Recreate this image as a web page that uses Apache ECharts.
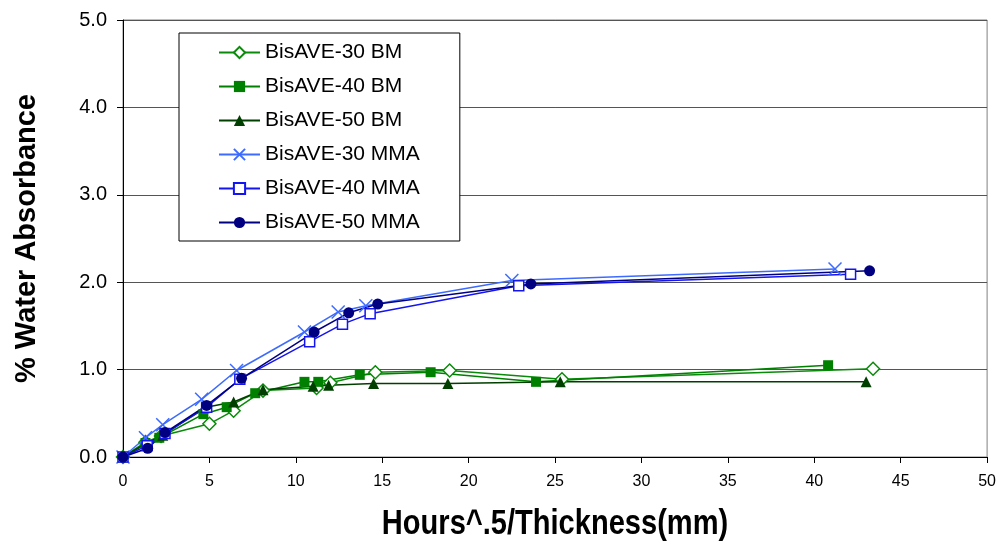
<!DOCTYPE html>
<html>
<head>
<meta charset="utf-8">
<script src="https://cdn.jsdelivr.net/npm/echarts@6/dist/echarts.min.js"></script>
<style>
  html, body { margin: 0; padding: 0; background: #fff; }
  #chart { width: 999px; height: 542px; }
</style>
</head>
<body>
<div id="chart"></div>
<script>
// Water uptake vs. sqrt(hours)/thickness for each formulation
const xTicks = [0, 5, 10, 15, 20, 25, 30, 35, 40, 45, 50];
const yTicks = [0.0, 1.0, 2.0, 3.0, 4.0, 5.0];
const xTitle = 'Hours^.5/Thickness(mm)';
const yTitle = '% Water Absorbance';

const seriesNames = ['BisAVE-30 BM', 'BisAVE-40 BM', 'BisAVE-50 BM',
                     'BisAVE-30 MMA', 'BisAVE-40 MMA', 'BisAVE-50 MMA'];

const bm30X = [0, 1.3, 2.2, 5.0, 6.4, 8.1, 11.2, 12.0, 14.6, 18.9, 25.4, 43.4];
const bm30Y = [0, 0.17, 0.24, 0.38, 0.53, 0.76, 0.79, 0.85, 0.97, 0.99, 0.89, 1.01];

const bm40X = [0, 1.3, 2.1, 4.65, 6.0, 7.65, 10.5, 11.3, 13.7, 17.8, 23.9, 40.8];
const bm40Y = [0, 0.16, 0.22, 0.49, 0.57, 0.73, 0.86, 0.86, 0.94, 0.97, 0.86, 1.05];

const bm50X = [0, 1.4, 2.3, 4.8, 6.4, 8.1, 11.0, 11.9, 14.5, 18.8, 25.3, 43.0];
const bm50Y = [0, 0.16, 0.25, 0.57, 0.63, 0.77, 0.81, 0.82, 0.84, 0.84, 0.86, 0.86];

const mma30X = [0, 1.3, 2.3, 4.55, 6.57, 10.5, 12.45, 14.05, 22.5, 41.2];
const mma30Y = [0, 0.22, 0.37, 0.66, 0.99, 1.43, 1.66, 1.73, 2.02, 2.15];

const mma40X = [0, 1.4, 2.43, 4.84, 6.76, 10.8, 12.7, 14.3, 22.9, 42.1];
const mma40Y = [0, 0.13, 0.27, 0.57, 0.89, 1.32, 1.52, 1.64, 1.96, 2.09];

const mma50X = [0, 1.43, 2.43, 4.84, 6.86, 11.06, 13.06, 14.74, 23.6, 43.2];
const mma50Y = [0, 0.10, 0.28, 0.59, 0.90, 1.43, 1.65, 1.75, 1.98, 2.13];

function pairs(xs, ys) { return xs.map((x, i) => [x, ys[i]]); }

const CROSS = 'path://M0,0L10,10M10,0L0,10';

function makeSeries(name, xs, ys, color, symbol, size, hollow) {
  return {
    name: name,
    type: 'line',
    data: pairs(xs, ys),
    symbol: symbol,
    symbolSize: size,
    showAllSymbol: true,
    lineStyle: { color: color, width: 1.5 },
    itemStyle: hollow
      ? { color: '#ffffff', borderColor: color, borderWidth: 1.5 }
      : { color: color, borderColor: color, borderWidth: symbol === CROSS ? 1.5 : 0 },
    emphasis: { disabled: true },
    animation: false
  };
}

const chart = echarts.init(document.getElementById('chart'), null, { renderer: 'canvas' });

chart.setOption({
  backgroundColor: '#ffffff',
  animation: false,
  grid: {
    left: 123, right: 11, top: 20, bottom: 85,
    show: true, borderColor: '#808080', borderWidth: 1, backgroundColor: 'transparent'
  },
  legend: {
    orient: 'vertical',
    left: 179, top: 33,
    padding: [9, 40, 8, 39],
    itemWidth: 41, itemHeight: 14, itemGap: 13,
    backgroundColor: '#ffffff',
    borderColor: '#000000', borderWidth: 1,
    textStyle: { fontFamily: 'Liberation Sans, Arial, sans-serif', fontSize: 21, color: '#000' },
    data: seriesNames
  },
  // condensed bold title under the x axis
  graphic: [{
    type: 'text',
    x: 555, y: 524,
    scaleX: 0.83,
    silent: true,
    style: {
      text: xTitle,
      font: 'bold 35px "Liberation Sans", Arial, sans-serif',
      fill: '#000',
      align: 'center',
      verticalAlign: 'middle'
    }
  }],
  xAxis: {
    type: 'value',
    min: 0, max: 50, interval: 5,
    axisLine: { show: true, onZero: false, lineStyle: { color: '#000', width: 1 } },
    axisTick: { show: true, length: 6, inside: false, lineStyle: { color: '#000' } },
    axisLabel: {
      fontFamily: 'Liberation Sans, Arial, sans-serif', fontSize: 16, color: '#000', margin: 17,
      formatter: v => xTicks.includes(v) ? String(v) : ''
    },
    splitLine: { show: false }
  },
  yAxis: {
    type: 'value',
    min: 0, max: 5, interval: 1,
    name: yTitle,
    nameLocation: 'middle',
    nameGap: 82,
    nameRotate: 90,
    nameTextStyle: { fontFamily: 'Liberation Sans, Arial, sans-serif', fontWeight: 'bold', fontSize: 29, color: '#000' },
    axisLine: { show: true, onZero: false, lineStyle: { color: '#000', width: 1 } },
    axisTick: { show: true, length: 6, inside: false, lineStyle: { color: '#000' } },
    axisLabel: {
      fontFamily: 'Liberation Sans, Arial, sans-serif', fontSize: 20, color: '#000', margin: 16,
      formatter: v => yTicks.includes(v) ? v.toFixed(1) : ''
    },
    splitLine: { show: true, lineStyle: { color: '#555555', width: 1 } }
  },
  series: [
    makeSeries(seriesNames[0], bm30X, bm30Y, '#0a8a0a', 'diamond', 13, true),
    makeSeries(seriesNames[1], bm40X, bm40Y, '#008000', 'rect', 10, false),
    makeSeries(seriesNames[2], bm50X, bm50Y, '#003f00', 'triangle', 11, false),
    makeSeries(seriesNames[3], mma30X, mma30Y, '#3d6bff', CROSS, 13, false),
    makeSeries(seriesNames[4], mma40X, mma40Y, '#1414f0', 'rect', 10, true),
    makeSeries(seriesNames[5], mma50X, mma50Y, '#000080', 'circle', 11, false)
  ]
});
</script>
</body>
</html>
